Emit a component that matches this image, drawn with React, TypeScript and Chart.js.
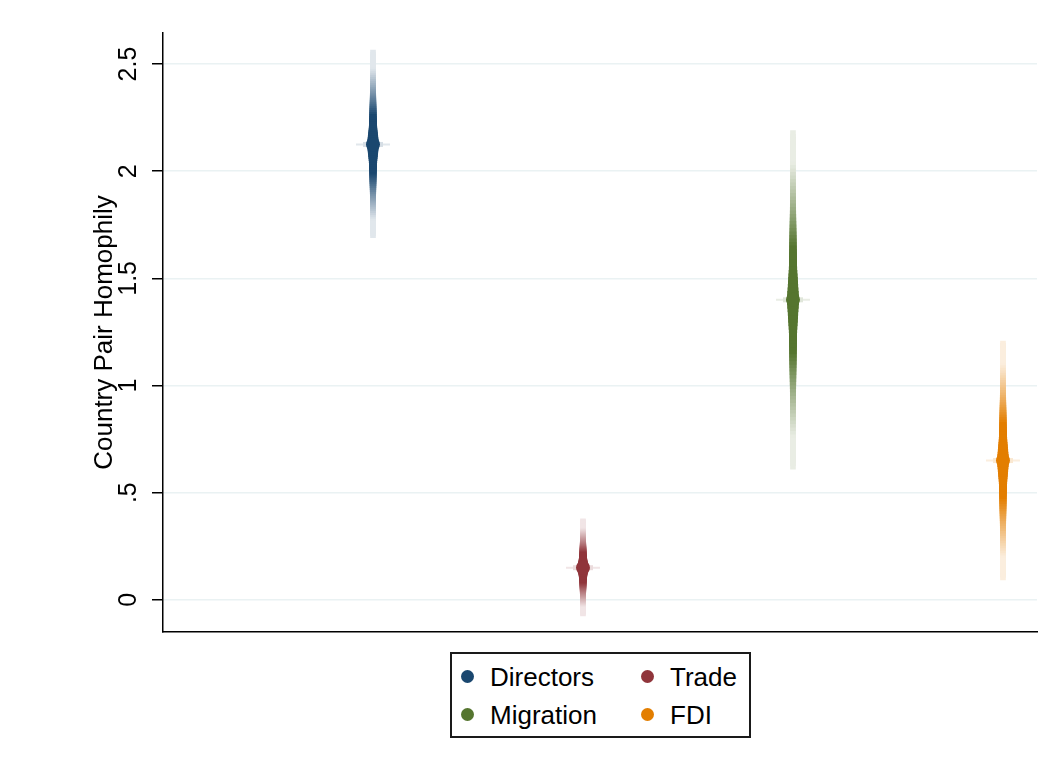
import React, { useEffect, useRef } from "react";
import { Chart, registerables } from "chart.js";

Chart.register(...registerables);

// ---------- data ----------
const categories = ["Directors", "Trade", "Migration", "FDI"];
const xPositions = [1, 2, 3, 4];
const estimates = [2.125, 0.15, 1.4, 0.65];
const ciLower = [1.69, -0.075, 0.61, 0.093];
const ciUpper = [2.565, 0.378, 2.19, 1.208];
const yTicks = [0, 0.5, 1, 1.5, 2, 2.5];
const yTickLabels = ["0", ".5", "1", "1.5", "2", "2.5"];
const yTitle = "Country Pair Homophily";
const seriesColors = ["#1a476f", "#90353b", "#55752f", "#e37e00"];

// ---------- style ----------
const FONT = "'Liberation Sans', Arial, Helvetica, sans-serif";
// graduated ("smooth") confidence bands, outermost first.
// share of the interval half-width, colour intensity and bar thickness per layer
const BAND_STEPS = 48;
const bandShare: number[] = [];
const bandIntensity: number[] = [];
const bandThickness: number[] = [];
for (let k = 0; k < BAND_STEPS; k++) {
  const f = 1 - (k / (BAND_STEPS - 1)) * 0.97;
  const clamp = (v: number) => Math.max(0, Math.min(1, v));
  bandShare.push(f);
  bandIntensity.push(0.13 + 0.87 * Math.pow(clamp((0.82 - f) / 0.5), 1.05));
  bandThickness.push(5 + 1.2 * clamp((0.65 - f) / 0.3) + 5 * Math.pow(clamp((0.32 - f) / 0.29), 1.5));
}

function mix(hex: string, t: number): string {
  const n = parseInt(hex.slice(1), 16);
  const r = (n >> 16) & 255;
  const g = (n >> 8) & 255;
  const b = n & 255;
  const m = (c: number) => Math.round(255 * (1 - t) + c * t);
  return `rgb(${m(r)},${m(g)},${m(b)})`;
}

export default function App() {
  const canvasRef = useRef<HTMLCanvasElement | null>(null);

  useEffect(() => {
    const canvas = canvasRef.current;
    if (!canvas) return;

    const bandSets: any[] = bandShare.map((f, k) => ({
      type: "bar",
      data: xPositions.map((x, i) => ({
        x,
        y: [
          estimates[i] - f * (estimates[i] - ciLower[i]),
          estimates[i] + f * (ciUpper[i] - estimates[i]),
        ],
      })),
      backgroundColor: seriesColors.map((c) => mix(c, bandIntensity[k])),
      borderWidth: 0,
      barThickness: bandThickness[k],
      grouped: false,
      order: 1000 - k,
    }));

    const chart = new Chart(canvas, {
      type: "scatter",
      data: {
        datasets: [
          {
            type: "scatter",
            data: xPositions.map((x, i) => ({ x, y: estimates[i] })),
            pointBackgroundColor: seriesColors,
            pointBorderWidth: 0,
            pointRadius: 7,
            order: 0,
          } as any,
          {
            type: "scatter",
            data: xPositions.map((x, i) => ({ x, y: estimates[i] })),
            pointStyle: "line",
            pointRadius: 10,
            pointBorderWidth: 5,
            pointBorderColor: seriesColors.map((c) => mix(c, 0.18)),
            order: 1,
          } as any,
          {
            type: "scatter",
            data: xPositions.map((x, i) => ({ x, y: estimates[i] })),
            pointStyle: "line",
            pointRadius: 17,
            pointBorderWidth: 2,
            pointBorderColor: seriesColors.map((c) => mix(c, 0.13)),
            order: 2,
          } as any,
          ...bandSets,
        ],
      },
      options: {
        responsive: false,
        animation: false,
        events: [],
        layout: { autoPadding: false, padding: { top: 33, right: 15, bottom: 140, left: 0 } },
        plugins: { legend: { display: false }, tooltip: { enabled: false } },
        scales: {
          x: {
            type: "linear",
            min: 0,
            max: 4.162,
            offset: false,
            ticks: { display: false },
            grid: { display: false, drawTicks: false },
            border: { display: true, color: "#000", width: 1.5 },
            afterFit: (s: any) => {
              s.height = 0;
            },
          },
          y: {
            type: "linear",
            min: -0.15,
            max: 2.645,
            afterBuildTicks: (s: any) => {
              s.ticks = yTicks.map((v) => ({ value: v }));
            },
            afterFit: (s: any) => {
              s.width = 163;
            },
            ticks: {
              callback: (v: any) => {
                const i = yTicks.indexOf(Number(v));
                return i >= 0 ? yTickLabels[i] : "";
              },
              font: { family: FONT, size: 25 },
              color: "#000",
              minRotation: 90,
              maxRotation: 90,
              crossAlign: "center",
              padding: 6,
            },
            grid: {
              color: "#eaf2f3",
              lineWidth: 1.5,
              tickColor: "#000",
              tickLength: 11,
              tickWidth: 1.5,
              drawTicks: true,
            },
            border: { display: true, color: "#000", width: 1.5 },
            title: {
              display: true,
              text: yTitle,
              font: { family: FONT, size: 26 },
              color: "#000",
              padding: { top: 89, bottom: 0 },
            },
          },
        },
      } as any,
    });

    return () => chart.destroy();
  }, []);

  return (
    <div style={{ position: "absolute", left: 0, top: 0, width: 1052, height: 772, background: "#fff" }}>
      <canvas ref={canvasRef} width={1052} height={772} style={{ display: "block" }} />
      <div
        style={{
          position: "absolute",
          left: 450,
          top: 652,
          width: 301,
          height: 86,
          boxSizing: "border-box",
          border: "2px solid #1a1a1a",
          background: "#fff",
          fontFamily: FONT,
          fontSize: 26,
          color: "#000",
        }}
      >
        {categories.map((name, i) => {
          const row = Math.floor(i / 2);
          const col = i % 2;
          const cy = row === 0 ? 22 : 60;
          const mx = col === 0 ? 15 : 195;
          return (
            <React.Fragment key={name}>
              <div
                style={{
                  position: "absolute",
                  left: mx - 6.5,
                  top: cy - 6.5,
                  width: 13,
                  height: 13,
                  borderRadius: "50%",
                  background: seriesColors[i],
                }}
              />
              <div
                style={{
                  position: "absolute",
                  left: mx + 23,
                  top: cy - 12,
                  lineHeight: "26px",
                  whiteSpace: "nowrap",
                }}
              >
                {name}
              </div>
            </React.Fragment>
          );
        })}
      </div>
    </div>
  );
}
